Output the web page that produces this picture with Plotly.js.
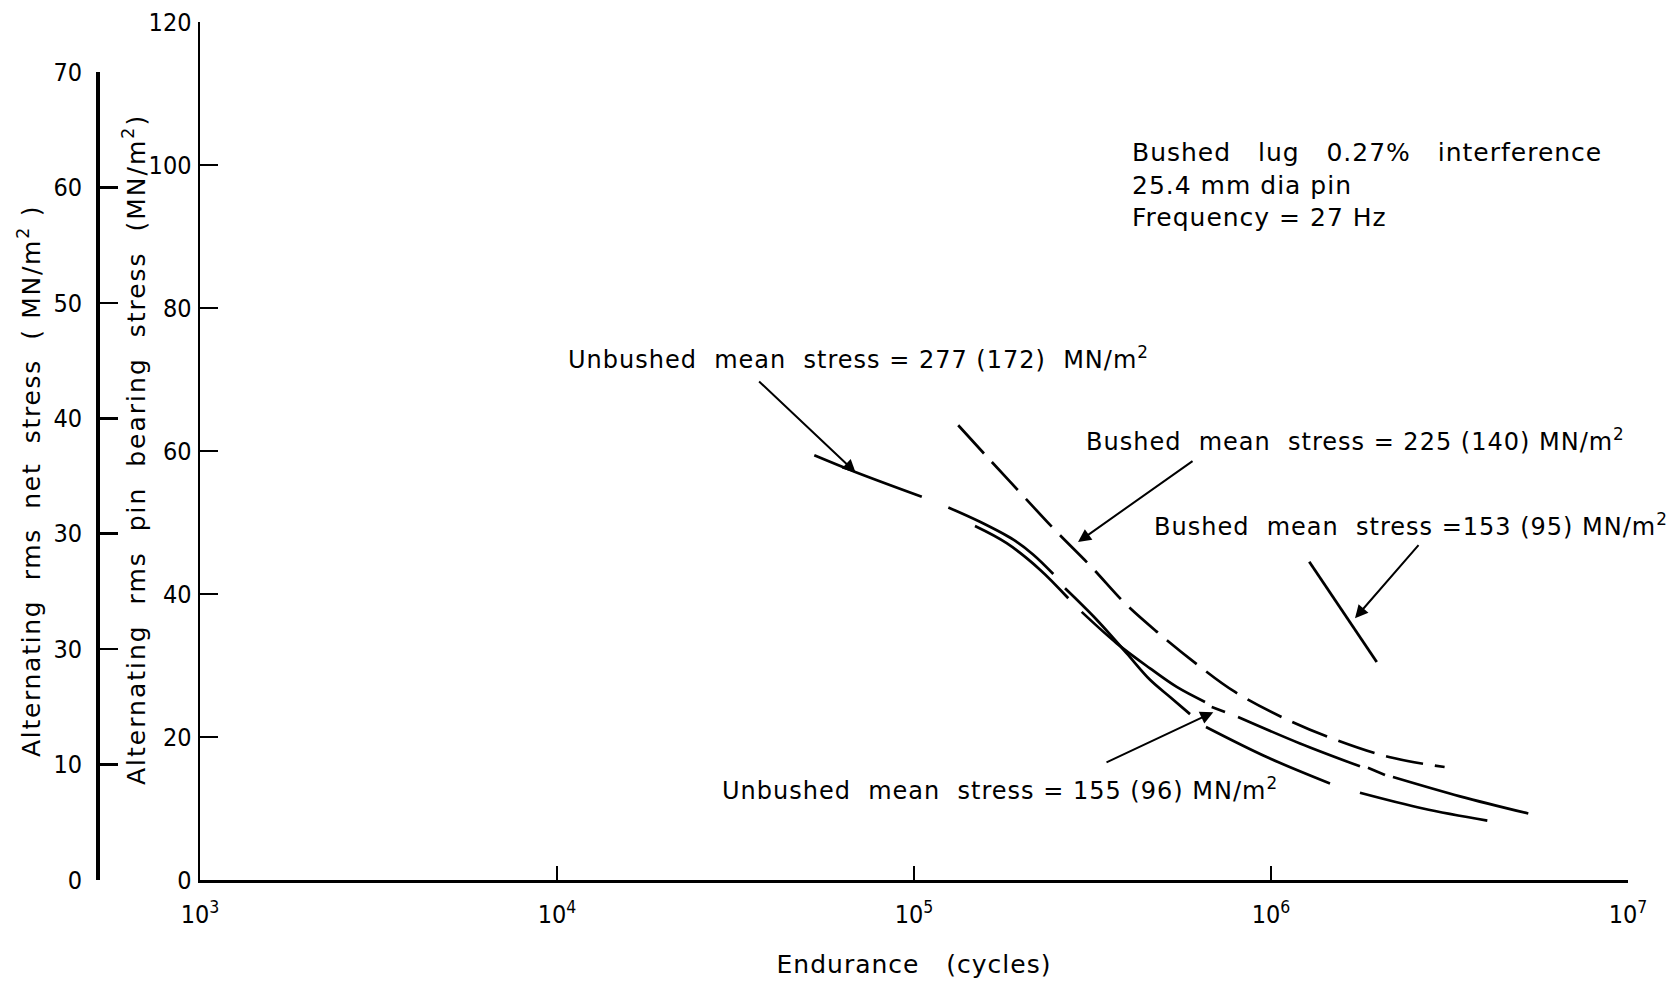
<!DOCTYPE html>
<html>
<head>
<meta charset="utf-8">
<script src="https://cdn.plot.ly/plotly-3.0.1.min.js"></script>
<style>
html,body{margin:0;padding:0;background:#fff;}
#chart .xtitle, #chart .annotation-text { letter-spacing: 1px; }
#chart .wide .annotation-text { letter-spacing: 2px; }
#chart .wide2 .annotation-text { letter-spacing: 1.7px; }
</style>
</head>
<body>
<div id="chart" style="width:1678px;height:984px;"></div>
<script>
// ---------------- DATA ----------------
// Endurance in cycles, alternating rms pin bearing stress in MN/m^2
// null marks a break in the drawn line
const unbushed277_N = [52570, 68170, 105150, null, 124800, 153000, 189800, 215900, 245600, null, 264900, 324900, 394300, 458300, 521400, 593200, null, 657500, 972500, 1463000, null, 1775000, 2666000, 4036000];
const unbushed277_S = [59.4, 57.1, 53.6, null, 52.1, 50.1, 47.6, 45.5, 42.8, null, 40.8, 36.4, 31.7, 28.0, 25.6, 23.2, null, 21.4, 17.2, 13.5, null, 12.2, 10.0, 8.3];

const unbushed155_N = [148200, 181800, 225400, 270500, null, 294900, 369700, 458300, 544400, 653300, null, 682200, 743300, null, 808400, 1205800, 1775000, null, 1869000, 2086000, null, 2196000, 3384000, 5257000];
const unbushed155_S = [49.5, 47.1, 43.4, 39.4, null, 37.5, 33.1, 29.6, 27.0, 24.9, null, 24.2, 23.5, null, 22.8, 19.1, 15.9, null, 15.7, 14.7, null, 14.4, 11.7, 9.3];

const bushed225_N = [133000, 160100, 199000, 247600, 315200, 389900, 479400, 615500, 792900, 1112800, 1501600, 2140000, 3064000];
const bushed225_S = [63.6, 59.2, 54.1, 49.0, 43.7, 38.7, 34.7, 30.3, 26.3, 22.4, 19.7, 17.2, 15.8];

const bushed153_N = [1280000, 1978000];
const bushed153_S = [44.5, 30.5];

// Tick labels
const xTickVals = [1e3, 1e4, 1e5, 1e6, 1e7];
const xTickText = ['10<sup>3</sup>', '10<sup>4</sup>', '10<sup>5</sup>', '10<sup>6</sup>', '10<sup>7</sup>'];
const bearingTickVals = [0, 20, 40, 60, 80, 100, 120];
const bearingTickText = ['0', '20', '40', '60', '80', '100', '120'];
const netTickVals = [0, 10, 20, 30, 40, 50, 60, 70];
const netTickText = ['0', '10', '30', '30', '40', '50', '60', '70'];

// Curve labels and their pointer arrows (tip on the curve, tail near the label)
const NB = '\u00A0';
const labelText = [
  'Unbushed' + NB + NB + 'mean' + NB + NB + 'stress = 277 (172)' + NB + NB + 'MN/m<sup>2</sup>',
  'Bushed' + NB + NB + 'mean' + NB + NB + 'stress = 225 (140) MN/m<sup>2</sup>',
  'Bushed' + NB + NB + 'mean' + NB + NB + 'stress =153 (95) MN/m<sup>2</sup>',
  'Unbushed' + NB + NB + 'mean' + NB + NB + 'stress = 155 (96) MN/m<sup>2</sup>'
];
const labelN = [10600, 299400, 464200, 28620];
const labelS = [73.0, 61.55, 49.6, 12.75];
const arrowTipN = [68660, 288000, 1719000, 689300];
const arrowTipS = [56.97, 47.27, 36.60, 23.47];
const arrowTailN = [36470, 608700, 2615000, 342800];
const arrowTailS = [69.93, 58.74, 47.09, 16.36];

const noteText = 'Bushed' + NB + NB + NB + 'lug' + NB + NB + NB + '0.27%' + NB + NB + NB + 'interference<br>25.4' + NB + 'mm dia pin<br>Frequency = 27 Hz';
const noteN = 402700;
const noteS = 97.25;

const netTitle = 'Alternating' + NB + NB + 'rms' + NB + NB + 'net' + NB + NB + 'stress' + NB + NB + '( MN/m<sup>2</sup> )';
const bearingTitle = 'Alternating' + NB + NB + 'rms' + NB + NB + 'pin' + NB + NB + 'bearing' + NB + NB + 'stress' + NB + NB + '(MN/m<sup>2</sup>)';
const xTitle = 'Endurance' + NB + NB + NB + '(cycles)';

// ---------------- CHART ----------------
const textFamily = 'DejaVu Sans, sans-serif';
const tickFont = {family: 'Liberation Sans Narrow, DejaVu Sans Condensed, sans-serif', size: 25, color: '#000'};
const curve = {color: '#000', width: 2.7, shape: 'spline', smoothing: 1.0};

const traces = [
  {x: unbushed277_N, y: unbushed277_S, mode: 'lines', line: curve, connectgaps: false, hoverinfo: 'skip'},
  {x: unbushed155_N, y: unbushed155_S, mode: 'lines', line: curve, connectgaps: false, hoverinfo: 'skip'},
  {x: bushed225_N, y: bushed225_S, mode: 'lines', line: Object.assign({}, curve, {dash: '38px,12px'}), hoverinfo: 'skip'},
  {x: bushed153_N, y: bushed153_S, mode: 'lines', line: {color: '#000', width: 2.8}, hoverinfo: 'skip'},
  {x: [], y: [], yaxis: 'y2', mode: 'lines', hoverinfo: 'skip'}
];

const W = 1678, H = 984;
const margin = {l: 0, r: 50, t: 22, b: 104, pad: 0};
const plotW = W - margin.l - margin.r;
const plotH = H - margin.t - margin.b;

const annotations = [];
for (let i = 0; i < labelText.length; i++) {
  annotations.push({
    x: Math.log10(labelN[i]), y: labelS[i], xref: 'x', yref: 'y',
    text: labelText[i], showarrow: false, xanchor: 'left', yanchor: 'middle', align: 'left',
    font: {family: textFamily, size: 24, color: '#000'}
  });
  annotations.push({
    x: Math.log10(arrowTipN[i]), y: arrowTipS[i], xref: 'x', yref: 'y',
    ax: Math.log10(arrowTailN[i]), ay: arrowTailS[i], axref: 'x', ayref: 'y',
    text: ' ', font: {size: 1}, showarrow: true, arrowhead: 2, arrowsize: 1.3,
    arrowwidth: 2, arrowcolor: '#000', standoff: 0, startstandoff: 0
  });
}
annotations.push({
  x: Math.log10(noteN), y: noteS, xref: 'x', yref: 'y', text: noteText,
  showarrow: false, xanchor: 'left', yanchor: 'middle', align: 'left',
  font: {family: textFamily, size: 25, color: '#000'}
});
// y-axis titles (rotated), placed where the reference draws them
annotations.push({
  x: 29 / plotW, y: (880 - 481) / plotH, xref: 'paper', yref: 'paper', text: netTitle,
  textangle: -90, showarrow: false, xanchor: 'center', yanchor: 'middle',
  font: {family: textFamily, size: 25, color: '#000'}
});
annotations.push({
  x: 134 / plotW, y: (880 - 450) / plotH, xref: 'paper', yref: 'paper', text: bearingTitle,
  textangle: -90, showarrow: false, xanchor: 'center', yanchor: 'middle',
  font: {family: textFamily, size: 25, color: '#000'}
});

const layout = {
  width: W, height: H, margin: margin,
  paper_bgcolor: '#fff', plot_bgcolor: 'rgba(0,0,0,0)', showlegend: false,
  font: {family: textFamily, size: 24, color: '#000'},
  xaxis: {
    type: 'log', range: [3, 7], domain: [200 / plotW, 1], anchor: 'y',
    showline: true, linecolor: '#000', linewidth: 3, showgrid: false, zeroline: false,
    ticks: 'inside', ticklen: 14, tickwidth: 2.5, tickcolor: '#000',
    tickmode: 'array', tickvals: xTickVals, ticktext: xTickText, tickfont: tickFont,
    ticklabelstandoff: 10,
    title: {text: xTitle, font: {family: textFamily, size: 25}, standoff: 28}
  },
  yaxis: {
    range: [0, 120], domain: [0, 1], anchor: 'x', side: 'left',
    showline: true, linecolor: '#000', linewidth: 2.5, showgrid: false, zeroline: false,
    ticks: 'inside', ticklen: 18, tickwidth: 2.5, tickcolor: '#000',
    tickmode: 'array', tickvals: bearingTickVals, ticktext: bearingTickText, tickfont: tickFont,
    ticklabelstandoff: 1
  },
  yaxis2: {
    range: [0, 70], domain: [0, (880 - 72) / plotH], anchor: 'free', position: 97 / plotW, side: 'left',
    showline: true, linecolor: '#000', linewidth: 3.5, showgrid: false, zeroline: false,
    ticks: 'inside', ticklen: 18, tickwidth: 2.5, tickcolor: '#000',
    tickmode: 'array', tickvals: netTickVals, ticktext: netTickText, tickfont: tickFont,
    ticklabelstandoff: 9
  },
  annotations: annotations
};

Plotly.newPlot('chart', traces, layout, {staticPlot: true, displayModeBar: false}).then(function () {
  // letter spacing for the two rotated axis titles
  const ann = document.querySelectorAll('#chart .annotation');
  const n = ann.length;
  if (n >= 2) { ann[n - 2].classList.add('wide2'); ann[n - 1].classList.add('wide'); }
});
</script>
</body>
</html>
